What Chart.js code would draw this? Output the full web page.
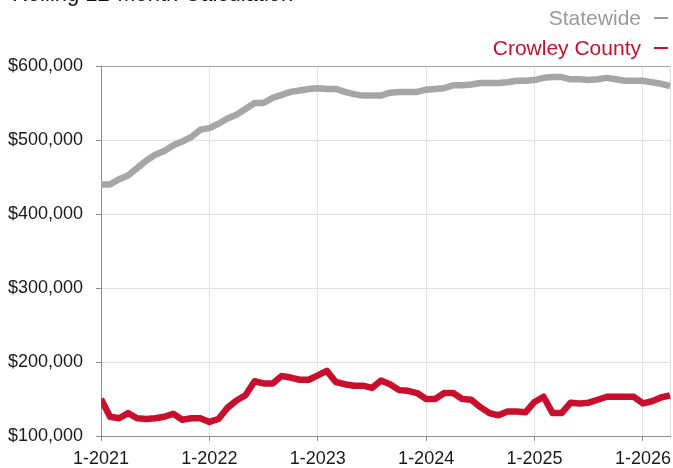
<!DOCTYPE html>
<html>
<head>
<meta charset="utf-8">
<script src="https://cdn.jsdelivr.net/npm/chart.js@4/dist/chart.umd.min.js"></script>
<style>
  html, body { margin: 0; padding: 0; background: #fff; }
  #wrap { position: relative; width: 673px; height: 468px; overflow: hidden; font-family: "Liberation Sans", Arial, sans-serif; }
  #c { position: absolute; left: 0; top: 0; }
  #title { position: absolute; left: 12px; top: -19px; font-size: 22px; color: #111; white-space: nowrap; }
  .leg { position: absolute; right: 5px; display: flex; align-items: center; font-size: 21px; white-space: nowrap; }
  .leg .dash { display: inline-block; width: 14px; height: 2px; margin-left: 13px; }
</style>
</head>
<body>
<div id="wrap">
  <canvas id="c" width="673" height="468"></canvas>
  <div id="title">Rolling 12-Month Calculation</div>
  <div class="leg" id="leg1" style="top:6px;color:#9a9a9a;"><span>Statewide</span><span class="dash" style="background:#9a9a9a"></span></div>
  <div class="leg" id="leg2" style="top:36px;color:#c8102e;"><span>Crowley County</span><span class="dash" style="background:#c8102e"></span></div>
</div>
<script>
// Month categories: Jan 2021 .. Apr 2026
const months = [];
for (let y = 2021; y <= 2026; y++) {
  for (let m = 1; m <= 12; m++) {
    if (y === 2026 && m > 4) break;
    months.push(m + '-' + y);
  }
}
const tickLabels = ['1-2021', '1-2022', '1-2023', '1-2024', '1-2025', '1-2026'];
const yTicks = [100000, 200000, 300000, 400000, 500000, 600000];

const statewide = [
  440000, 440000, 447000, 452000, 462000, 472000, 480000, 485000, 493000, 498000, 504000, 514000,
  516000, 522000, 529000, 534000, 542000, 550000, 550000, 557000, 561000, 565000, 567000, 569000,
  570000, 569000, 569000, 565000, 562000, 560000, 560000, 560000, 564000, 565000, 565000, 565000,
  568000, 569000, 570000, 574000, 574000, 575000, 577000, 577000, 577000, 578000, 580000, 580000,
  581000, 584000, 585000, 585000, 582000, 582000, 581000, 582000, 584000, 582000, 580000, 580000,
  580000, 578000, 576000, 573000
];
const crowley = [
  150000, 126000, 124000, 131000, 124000, 123000, 124000, 126000, 130000, 122000, 124000, 124000,
  119000, 123000, 138000, 148000, 155000, 174000, 171000, 171000, 181000, 179000, 176000, 176000,
  182000, 188000, 173000, 170000, 168000, 168000, 165000, 175000, 170000, 162000, 161000, 158000,
  150000, 150000, 158000, 158000, 150000, 149000, 139000, 131000, 128000, 133000, 133000, 132000,
  146000, 153000, 131000, 131000, 145000, 144000, 145000, 149000, 153000, 153000, 153000, 153000,
  144000, 147000, 152000, 155000
];

const FONT = "'Liberation Sans', Arial, sans-serif";
const lastIdx = months.length - 1;

new Chart(document.getElementById('c'), {
  type: 'line',
  data: {
    labels: months,
    datasets: [
      { label: 'Statewide', data: statewide, borderColor: '#a6a6a6', borderWidth: 6.5, pointRadius: 0, tension: 0, borderJoinStyle: 'round', clip: { left: 0, right: 6, top: 6, bottom: 6 } },
      { label: 'Crowley County', data: crowley, borderColor: '#c8102e', borderWidth: 6.5, pointRadius: 0, tension: 0, borderJoinStyle: 'round', clip: { left: 0, right: 6, top: 6, bottom: 6 } }
    ]
  },
  options: {
    responsive: false,
    animation: false,
    events: [],
    layout: { padding: { top: 66, right: 3, left: 0, bottom: 0 } },
    plugins: { legend: { display: false }, tooltip: { enabled: false }, title: { display: false } },
    scales: {
      x: {
        type: 'category',
        offset: false,
        border: { display: true, color: '#8c8c8c', width: 1 },
        grid: {
          color: (ctx) => {
            const lab = months[ctx.index];
            if (ctx.index === lastIdx) return '#dcdcdc';
            return tickLabels.includes(lab) ? '#e0e0e0' : 'rgba(0,0,0,0)';
          },
          tickColor: (ctx) => tickLabels.includes(months[ctx.index]) ? '#8c8c8c' : 'rgba(0,0,0,0)',
          tickLength: 5,
          lineWidth: 1
        },
        ticks: {
          autoSkip: false,
          maxRotation: 0,
          minRotation: 0,
          padding: 7,
          color: '#1a1a1a',
          font: { family: FONT, size: 18 },
          callback: function (v, i) { const l = months[i]; return tickLabels.includes(l) ? l : ''; }
        },
        afterFit: (axis) => { axis.height = 32; axis.paddingLeft = 0; axis.paddingRight = 0; }
      },
      y: {
        min: 100000,
        max: 600000,
        border: { display: true, color: '#8c8c8c', width: 1 },
        grid: {
          color: (ctx) => (ctx.tick && ctx.tick.value === 600000) ? '#a8a8a8' : '#e0e0e0',
          tickColor: '#8c8c8c',
          tickLength: 5,
          lineWidth: 1
        },
        afterBuildTicks: (axis) => { axis.ticks = yTicks.map(v => ({ value: v })); },
        ticks: {
          padding: 13,
          color: '#1a1a1a',
          font: { family: FONT, size: 18 },
          callback: (v) => '$' + Number(v).toLocaleString('en-US')
        },
        afterFit: (axis) => { axis.width = 101; axis.paddingTop = 0; axis.paddingBottom = 0; }
      }
    }
  }
});
</script>
</body>
</html>
